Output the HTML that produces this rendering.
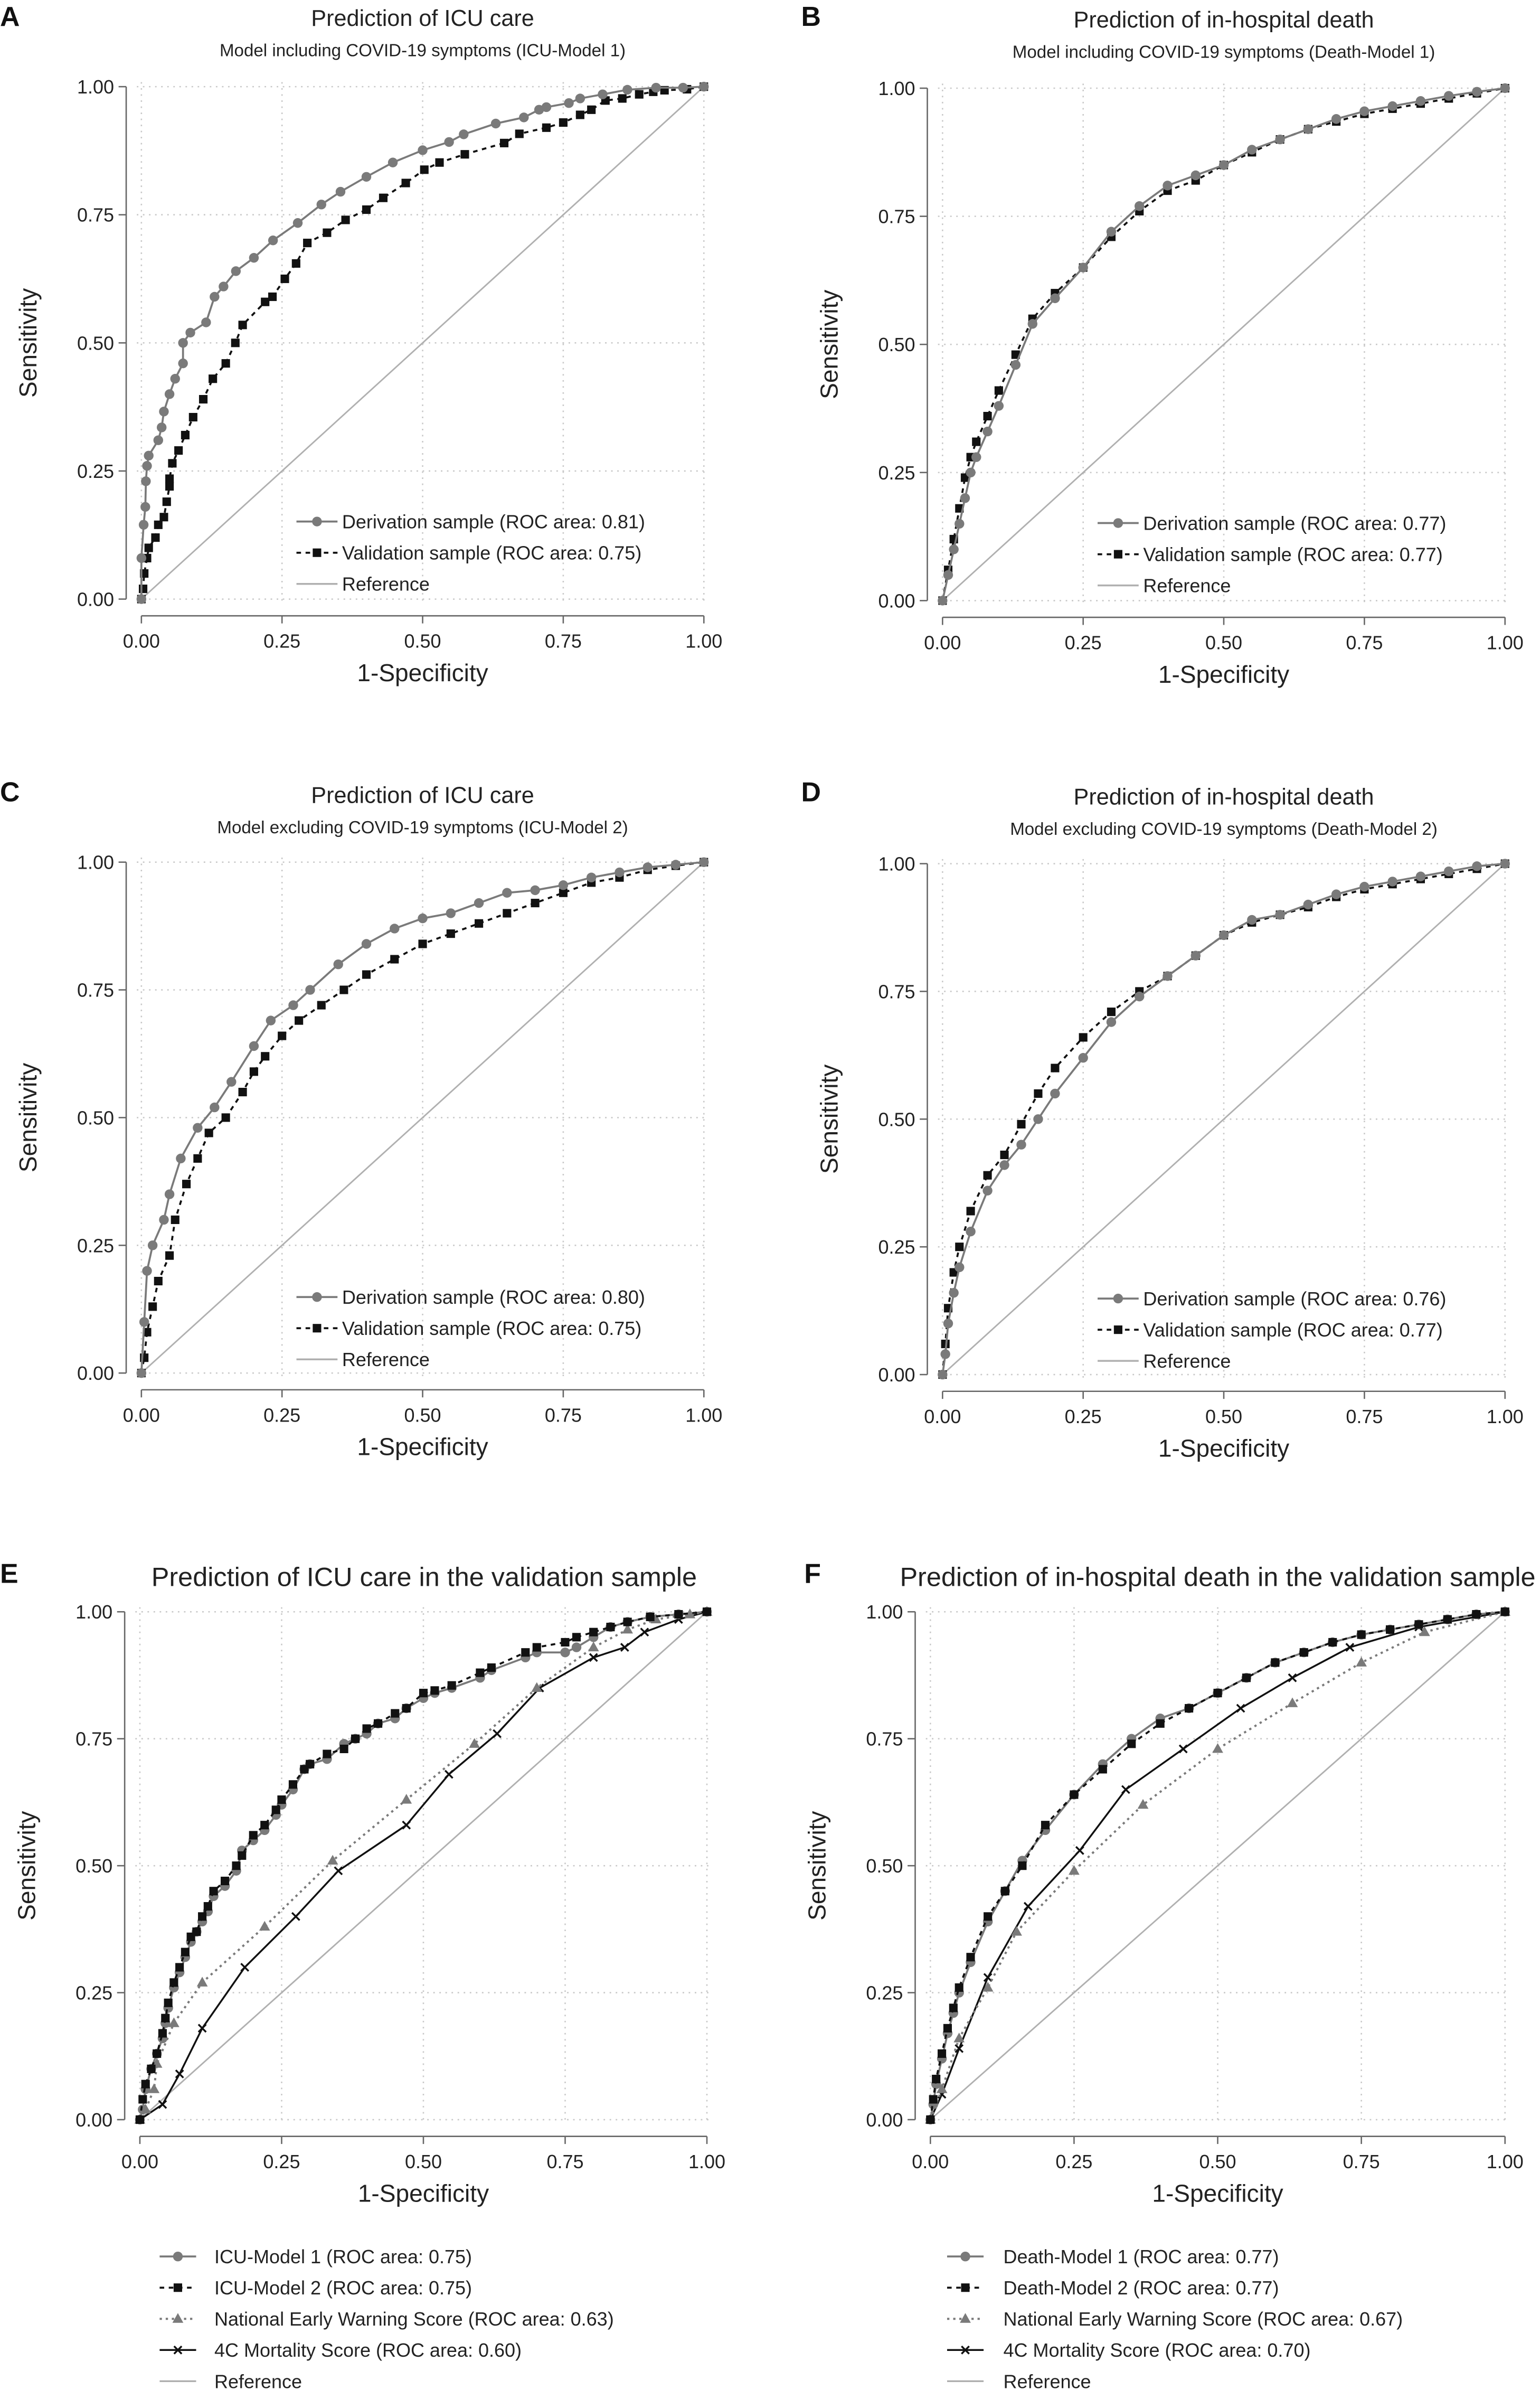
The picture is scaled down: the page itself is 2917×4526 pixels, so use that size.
<!DOCTYPE html>
<html><head><meta charset="utf-8"><style>
html,body{margin:0;padding:0;background:#fff;}
svg{display:block;font-family:"Liberation Sans",Arial,sans-serif;}
</style></head><body>
<svg id="fig" width="2917" height="4526" viewBox="0 0 1013 1571.8" xmlns="http://www.w3.org/2000/svg"></svg>
<script>
const ticks=[0,0.25,0.5,0.75,1];
const tickLabels=["0.00","0.25","0.50","0.75","1.00"];
// Panel A
const aDerX=[0,0,.004,.007,.008,.01,.013,.03,.036,.04,.05,.06,.074,.074,.087,.115,.13,.146,.168,.2,.234,.278,.32,.354,.4,.447,.5,.547,.573,.63,.68,.707,.72,.76,.78,.82,.864,.915,.963,1];
const aDerY=[0,.08,.145,.18,.23,.26,.28,.31,.335,.366,.40,.43,.46,.50,.52,.54,.59,.61,.64,.666,.70,.734,.77,.795,.824,.852,.876,.892,.907,.928,.94,.955,.96,.968,.977,.985,.994,.998,.998,1];
const aValX=[0,.003,.005,.01,.013,.025,.03,.04,.045,.05,.05,.055,.066,.078,.092,.11,.127,.15,.167,.18,.22,.233,.255,.275,.295,.33,.363,.4,.43,.47,.503,.53,.575,.645,.672,.72,.75,.78,.8,.825,.855,.885,.91,.93,.97,1];
const aValY=[0,.02,.05,.08,.1,.12,.145,.16,.19,.22,.235,.265,.29,.32,.355,.39,.43,.46,.5,.535,.58,.59,.625,.655,.695,.715,.74,.76,.783,.812,.838,.852,.868,.89,.908,.92,.93,.945,.955,.973,.977,.985,.99,.993,.995,1];
// Panel B
const bDerX=[0,.01,.02,.03,.04,.05,.06,.08,.1,.13,.16,.2,.25,.3,.35,.4,.45,.5,.55,.6,.65,.7,.75,.8,.85,.9,.95,1];
const bDerY=[0,.05,.1,.15,.2,.25,.28,.33,.38,.46,.54,.59,.65,.72,.77,.81,.83,.85,.88,.9,.92,.94,.955,.965,.975,.985,.993,1];
const bValX=[0,.01,.02,.03,.04,.05,.06,.08,.1,.13,.16,.2,.25,.3,.35,.4,.45,.5,.55,.6,.65,.7,.75,.8,.85,.9,.95,1];
const bValY=[0,.06,.12,.18,.24,.28,.31,.36,.41,.48,.55,.6,.65,.71,.76,.8,.82,.85,.875,.9,.92,.935,.95,.96,.97,.98,.99,1];
// Panel C
const cDerX=[0,.005,.01,.02,.04,.05,.07,.1,.13,.16,.2,.23,.27,.3,.35,.4,.45,.5,.55,.6,.65,.7,.75,.8,.85,.9,.95,1];
const cDerY=[0,.1,.2,.25,.3,.35,.42,.48,.52,.57,.64,.69,.72,.75,.8,.84,.87,.89,.9,.92,.94,.945,.955,.97,.98,.99,.995,1];
const cValX=[0,.005,.01,.02,.03,.05,.06,.08,.1,.12,.15,.18,.2,.22,.25,.28,.32,.36,.4,.45,.5,.55,.6,.65,.7,.75,.8,.85,.9,.95,1];
const cValY=[0,.03,.08,.13,.18,.23,.3,.37,.42,.47,.5,.55,.59,.62,.66,.69,.72,.75,.78,.81,.84,.86,.88,.9,.92,.94,.96,.97,.985,.993,1];
// Panel D
const dDerX=[0,.005,.01,.02,.03,.05,.08,.11,.14,.17,.2,.25,.3,.35,.4,.45,.5,.55,.6,.65,.7,.75,.8,.85,.9,.95,1];
const dDerY=[0,.04,.1,.16,.21,.28,.36,.41,.45,.5,.55,.62,.69,.74,.78,.82,.86,.89,.9,.92,.94,.955,.965,.975,.985,.995,1];
const dValX=[0,.005,.01,.02,.03,.05,.08,.11,.14,.17,.2,.25,.3,.35,.4,.45,.5,.55,.6,.65,.7,.75,.8,.85,.9,.95,1];
const dValY=[0,.06,.13,.2,.25,.32,.39,.43,.49,.55,.6,.66,.71,.75,.78,.82,.86,.885,.9,.915,.935,.95,.96,.97,.98,.99,1];
// Panel E
const eM1X=[0,.005,.01,.02,.03,.04,.045,.05,.06,.07,.08,.09,.1,.11,.12,.13,.15,.17,.18,.2,.22,.24,.25,.27,.29,.3,.33,.36,.38,.4,.42,.45,.47,.5,.52,.55,.6,.62,.68,.7,.75,.77,.8,.83,.86,.9,.95,1];
const eM1Y=[0,.02,.06,.1,.13,.16,.19,.22,.26,.29,.32,.35,.37,.39,.41,.44,.46,.49,.53,.55,.57,.6,.62,.65,.69,.7,.71,.74,.75,.76,.78,.79,.81,.83,.84,.85,.87,.885,.91,.92,.92,.93,.95,.97,.98,.99,.995,1];
const eM2X=[0,.005,.01,.02,.03,.04,.045,.05,.06,.07,.08,.09,.1,.11,.12,.13,.15,.17,.18,.2,.22,.24,.25,.27,.29,.3,.33,.36,.38,.4,.42,.45,.47,.5,.52,.55,.6,.62,.68,.7,.75,.77,.8,.83,.86,.9,.95,1];
const eM2Y=[0,.04,.07,.1,.13,.17,.2,.23,.27,.3,.33,.36,.37,.4,.42,.45,.47,.5,.52,.56,.58,.61,.63,.66,.69,.7,.72,.73,.75,.77,.78,.8,.81,.84,.845,.855,.88,.89,.92,.93,.94,.95,.96,.97,.98,.99,.995,1];
const eNwX=[0,.01,.025,.03,.06,.11,.22,.34,.47,.59,.7,.8,.86,.91,.97,1];
const eNwY=[0,.02,.06,.11,.19,.27,.38,.51,.63,.74,.85,.93,.965,.985,.995,1];
const e4cX=[0,.04,.07,.11,.185,.275,.35,.47,.545,.63,.705,.8,.855,.89,.95,1];
const e4cY=[0,.03,.09,.18,.3,.4,.49,.58,.68,.76,.85,.91,.93,.96,.985,1];
// Panel F
const fM1X=[0,.005,.01,.02,.03,.04,.05,.07,.1,.13,.16,.2,.25,.3,.35,.4,.45,.5,.55,.6,.65,.7,.75,.8,.85,.9,.95,1];
const fM1Y=[0,.03,.07,.12,.17,.21,.25,.31,.39,.45,.51,.57,.64,.7,.75,.79,.81,.84,.87,.9,.92,.94,.955,.965,.975,.985,.995,1];
const fM2X=[0,.005,.01,.02,.03,.04,.05,.07,.1,.13,.16,.2,.25,.3,.35,.4,.45,.5,.55,.6,.65,.7,.75,.8,.85,.9,.95,1];
const fM2Y=[0,.04,.08,.13,.18,.22,.26,.32,.4,.45,.5,.58,.64,.69,.74,.78,.81,.84,.87,.9,.92,.94,.955,.965,.975,.985,.995,1];
const fNwX=[0,.02,.05,.1,.15,.25,.37,.5,.63,.75,.86,1];
const fNwY=[0,.06,.16,.26,.37,.49,.62,.73,.82,.9,.96,1];
const f4cX=[0,.02,.05,.1,.17,.26,.34,.44,.54,.63,.73,.85,1];
const f4cY=[0,.05,.14,.28,.42,.53,.65,.73,.81,.87,.93,.97,1];

const NS="http://www.w3.org/2000/svg";
const svg=document.getElementById('fig');
function el(tag,attrs,parent,text){const e=document.createElementNS(NS,tag);for(const k in attrs)e.setAttribute(k,attrs[k]);if(text!==undefined)e.textContent=text;(parent||svg).appendChild(e);return e;}

function marker(g,type,x,y,color){
  let m;
  if(type==='circle'){m=el('circle',{cx:x,cy:y,r:3.2,fill:color},g);}
  else if(type==='square'){m=el('rect',{x:x-2.8,y:y-2.8,width:5.6,height:5.6,fill:color},g);}
  else if(type==='tri'){m=el('polygon',{points:`${x},${y-3.8} ${x-3.6},${y+2.6} ${x+3.6},${y+2.6}`,fill:color},g);}
  else if(type==='x'){m=el('path',{d:`M${x-2.5},${y-2.5}L${x+2.5},${y+2.5}M${x-2.5},${y+2.5}L${x+2.5},${y-2.5}`,stroke:color,'stroke-width':1.2},g);}
  return m;
}
const STY={
  der:{color:'#7a7a7a',dash:'',w:1.3,m:'circle'},
  val:{color:'#111',dash:'3,3',w:1.3,m:'square'},
  news:{color:'#7a7a7a',dash:'1.5,2.5',w:1.4,m:'tri'},
  c4:{color:'#111',dash:'',w:1.2,m:'x'}
};
function panel(p){
  const g=el('g',{},svg);
  
  
  const sx=v=>p.x0+v*(p.x1-p.x0), sy=v=>p.y0-v*(p.y0-p.y1);
  const L=el('text',{x:p.lx,y:p.ly,'font-size':18,'font-weight':'bold',fill:'#111'},g,p.letter);
  
  const cx=(p.x0+p.x1)/2;
  const t=el('text',{x:p.tx||cx,y:p.ty,'font-size':p.tfs||15,'text-anchor':'middle',fill:'#222'},g,p.title);
  
  if(p.sub){const s=el('text',{x:cx,y:p.ty+20,'font-size':11.5,'text-anchor':'middle',fill:'#222'},g,p.sub);
    }
  ticks.forEach(v=>{
    el('line',{x1:sx(v),x2:sx(v),y1:p.y1-3,y2:p.y0+3,stroke:'#c8c8c8','stroke-width':0.9,'stroke-dasharray':'1,3'},g);
    el('line',{x1:p.x0-3,x2:p.x1+3,y1:sy(v),y2:sy(v),stroke:'#c8c8c8','stroke-width':0.9,'stroke-dasharray':'1,3'},g);
  });
  const ax=p.x0-10, ay=p.y0+11;
  el('line',{x1:ax,x2:ax,y1:sy(1),y2:sy(0),stroke:'#666','stroke-width':0.9},g);
  el('line',{x1:sx(0),x2:sx(1),y1:ay,y2:ay,stroke:'#666','stroke-width':0.9},g);
  ticks.forEach((v,i)=>{
    el('line',{x1:ax-5,x2:ax,y1:sy(v),y2:sy(v),stroke:'#666','stroke-width':0.9},g);
    const yl=el('text',{x:ax-8,y:sy(v)+4.5,'font-size':12.5,'text-anchor':'end',fill:'#222'},g,tickLabels[i]);
    
    el('line',{x1:sx(v),x2:sx(v),y1:ay,y2:ay+5,stroke:'#666','stroke-width':0.9},g);
    const xl=el('text',{x:sx(v),y:ay+21,'font-size':12.5,'text-anchor':'middle',fill:'#222'},g,tickLabels[i]);
    
  });
  const xt=el('text',{x:cx,y:ay+43,'font-size':16,'text-anchor':'middle',fill:'#222'},g,'1-Specificity');
  
  const ym=(p.y0+p.y1)/2, yx=p.x0-69;
  const yt=el('text',{x:yx,y:ym,'font-size':16,'text-anchor':'middle',fill:'#222',transform:`rotate(-90 ${yx} ${ym})`},g,'Sensitivity');
  
  const ref=el('line',{x1:sx(0),y1:sy(0),x2:sx(1),y2:sy(1),stroke:'#b0b0b0','stroke-width':1},g);
  
  p.series.forEach(s=>{
    const st=STY[s.style];
    const sg=el('g',{},g);
    
    
    const d=s.x.map((v,i)=>(i?'L':'M')+sx(v).toFixed(2)+','+sy(s.y[i]).toFixed(2)).join('');
    el('path',{d:d,fill:'none',stroke:st.color,'stroke-width':st.w,'stroke-dasharray':st.dash},sg);
    s.x.forEach((v,i)=>marker(sg,st.m,sx(v),sy(s.y[i]),st.color));
  });
  const LL=p.legLen||27;
  p.legend.forEach((it,i)=>{
    const y=p.legY+i*p.legDy;
    const lg=el('g',{},g);
    
    
    if(it.style==='ref'){el('line',{x1:p.legX,x2:p.legX+LL,y1:y,y2:y,stroke:'#b0b0b0','stroke-width':1.2},lg);}
    else{const st=STY[it.style];
      el('line',{x1:p.legX,x2:p.legX+LL,y1:y,y2:y,stroke:st.color,'stroke-width':st.w,'stroke-dasharray':st.dash},lg);
      marker(lg,st.m,p.legX+LL/2,y,st.color);}
    el('text',{x:p.legX+p.legTx,y:y+4.5,'font-size':12.5,fill:'#222'},lg,it.text);
  });
}
const ref={style:'ref',text:'Reference'};
panel({letter:'A',lx:0,ly:17,x0:93,x1:463,y1:57,y0:394,ty:17,title:'Prediction of ICU care',sub:'Model including COVID-19 symptoms (ICU-Model 1)',
 series:[{name:'validation-series',style:'val',x:aValX,y:aValY},{name:'derivation-series',style:'der',x:aDerX,y:aDerY}],
 legX:195,legY:343,legDy:20.5,legTx:30,legend:[{style:'der',text:'Derivation sample (ROC area: 0.81)'},{style:'val',text:'Validation sample (ROC area: 0.75)'},ref]});
panel({letter:'B',lx:527,ly:17,x0:620,x1:990,y1:58,y0:395,ty:18,title:'Prediction of in-hospital death',sub:'Model including COVID-19 symptoms (Death-Model 1)',
 series:[{name:'validation-series',style:'val',x:bValX,y:bValY},{name:'derivation-series',style:'der',x:bDerX,y:bDerY}],
 legX:722,legY:344,legDy:20.5,legTx:30,legend:[{style:'der',text:'Derivation sample (ROC area: 0.77)'},{style:'val',text:'Validation sample (ROC area: 0.77)'},ref]});
panel({letter:'C',lx:0,ly:527,x0:93,x1:463,y1:567,y0:903,ty:528,title:'Prediction of ICU care',sub:'Model excluding COVID-19 symptoms (ICU-Model 2)',
 series:[{name:'validation-series',style:'val',x:cValX,y:cValY},{name:'derivation-series',style:'der',x:cDerX,y:cDerY}],
 legX:195,legY:853,legDy:20.5,legTx:30,legend:[{style:'der',text:'Derivation sample (ROC area: 0.80)'},{style:'val',text:'Validation sample (ROC area: 0.75)'},ref]});
panel({letter:'D',lx:527,ly:527,x0:620,x1:990,y1:568,y0:904,ty:529,title:'Prediction of in-hospital death',sub:'Model excluding COVID-19 symptoms (Death-Model 2)',
 series:[{name:'validation-series',style:'val',x:dValX,y:dValY},{name:'derivation-series',style:'der',x:dDerX,y:dDerY}],
 legX:722,legY:854,legDy:20.5,legTx:30,legend:[{style:'der',text:'Derivation sample (ROC area: 0.76)'},{style:'val',text:'Validation sample (ROC area: 0.77)'},ref]});
panel({letter:'E',lx:0,ly:1041,x0:92,x1:465,y1:1060,y0:1394,ty:1043,tx:279,tfs:17.5,title:'Prediction of ICU care in the validation sample',
 series:[{name:'4c-mortality-series',style:'c4',x:e4cX,y:e4cY},{name:'news-series',style:'news',x:eNwX,y:eNwY},{name:'icu-model-1-series',style:'der',x:eM1X,y:eM1Y},{name:'icu-model-2-series',style:'val',x:eM2X,y:eM2Y}],
 legX:105,legY:1484,legDy:20.5,legLen:24,legTx:36,legend:[{style:'der',text:'ICU-Model 1 (ROC area: 0.75)'},{style:'val',text:'ICU-Model 2 (ROC area: 0.75)'},{style:'news',text:'National Early Warning Score (ROC area: 0.63)'},{style:'c4',text:'4C Mortality Score (ROC area: 0.60)'},ref]});
panel({letter:'F',lx:529,ly:1041,x0:612,x1:990,y1:1060,y0:1394,ty:1043,tx:801,tfs:17.5,title:'Prediction of in-hospital death in the validation sample',
 series:[{name:'4c-mortality-series',style:'c4',x:f4cX,y:f4cY},{name:'news-series',style:'news',x:fNwX,y:fNwY},{name:'death-model-1-series',style:'der',x:fM1X,y:fM1Y},{name:'death-model-2-series',style:'val',x:fM2X,y:fM2Y}],
 legX:623,legY:1484,legDy:20.5,legLen:24,legTx:37,legend:[{style:'der',text:'Death-Model 1 (ROC area: 0.77)'},{style:'val',text:'Death-Model 2 (ROC area: 0.77)'},{style:'news',text:'National Early Warning Score (ROC area: 0.67)'},{style:'c4',text:'4C Mortality Score (ROC area: 0.70)'},ref]});
</script>
</body></html>
